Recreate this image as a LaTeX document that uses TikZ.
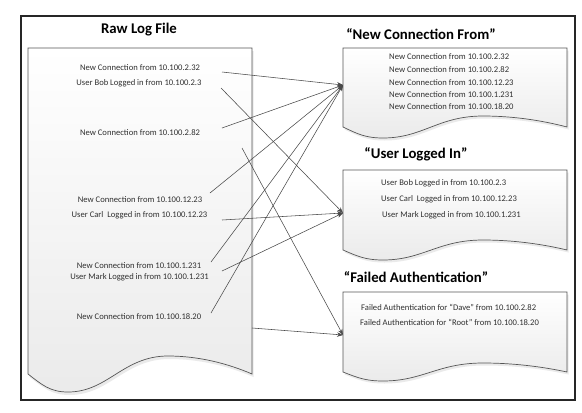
\documentclass[tikz,border=0pt]{standalone}
\usepackage{fontspec}
\setmainfont{Carlito}
\usetikzlibrary{arrows.meta}
\definecolor{txtc}{HTML}{303030}
\definecolor{linec}{HTML}{4A4A4A}
\definecolor{boxc}{HTML}{555555}
\newcommand\docshape[4]{(#1,#2) -- (#1+224,#2) -- (#1+224,#3) .. controls +(-25,-0.6*#4) and +(30,0) .. (#1+140,#3-#4) .. controls +(-45,0) and +(40,0) .. (#1+40,#3+#4) .. controls +(-18,0) and +(14,0.6*#4) .. (#1,#3) -- cycle}
\tikzset{
  doc/.style={top color=white, bottom color=gray!16, draw=boxc, line width=0.7pt},
  docshadow/.style={fill=gray!35, opacity=0.45},
  title/.style={font=\bfseries\fontsize{14.8}{16}\selectfont, text=black, inner sep=0pt},
  txt/.style={font=\fontsize{8.6}{10}\selectfont, text=txtc, inner sep=0pt},
  conn/.style={draw=linec, line width=0.55pt, -{Stealth[length=6pt,width=4.5pt]}},
}
\begin{document}
\begin{tikzpicture}[x=1pt,y=-1pt]
\useasboundingbox (0,0) rectangle (582,413);
\fill[white] (0,0) rectangle (582,413);
\draw[line width=1.1pt, black!85] (21,16) rectangle (575,400);

% documents
\fill[docshadow, xshift=1.5pt, yshift=-3pt] \docshape{28}{48}{374}{18};
\shade[doc] \docshape{28}{48}{374}{18};
\fill[docshadow, xshift=1.5pt, yshift=-2.5pt] \docshape{343}{48}{127}{11};
\shade[doc] \docshape{343}{48}{127}{11};
\fill[docshadow, xshift=1.5pt, yshift=-2.5pt] \docshape{343}{170}{250}{10};
\shade[doc] \docshape{343}{170}{250}{10};
\fill[docshadow, xshift=1.5pt, yshift=-2.5pt] \docshape{343}{292}{372}{9};
\shade[doc] \docshape{343}{292}{372}{9};

% titles
\node[title] (tRaw) at (139,30) {Raw Log File};
\node[title] (tNew) at (421,34) {“New Connection From”};
\node[title] (tUser) at (416,154) {“User Logged In”};
\node[title] (tFail) at (416,277) {“Failed Authentication”};

% raw log lines
\node[txt] (r1) at (140,68) {New Connection from 10.100.2.32};
\node[txt] (r2) at (139,83) {User Bob Logged in from 10.100.2.3};
\node[txt] (r3) at (140,133) {New Connection from 10.100.2.82};
\node[txt] (r4) at (140,200) {New Connection from 10.100.12.23};
\node[txt] (r5) at (139.5,215) {User Carl\ \ Logged in from 10.100.12.23};
\node[txt] (r6) at (139,266) {New Connection from 10.100.1.231};
\node[txt] (r7) at (139.5,277) {User Mark Logged in from 10.100.1.231};
\node[txt] (r8) at (139,317) {New Connection from 10.100.18.20};

% new connection doc
\node[txt, anchor=west] (n1) at (389,57) {New Connection from 10.100.2.32};
\node[txt, anchor=west] (n2) at (389,70) {New Connection from 10.100.2.82};
\node[txt, anchor=west] (n3) at (389,83) {New Connection from 10.100.12.23};
\node[txt, anchor=west] (n4) at (389,95) {New Connection from 10.100.1.231};
\node[txt, anchor=west] (n5) at (389,107) {New Connection from 10.100.18.20};

% user logged in doc
\node[txt, anchor=west] (u1) at (381,183) {User Bob Logged in from 10.100.2.3};
\node[txt, anchor=west] (u2) at (381,199) {User Carl\ \ Logged in from 10.100.12.23};
\node[txt, anchor=west] (u3) at (382,215) {User Mark Logged in from 10.100.1.231};

% failed auth doc
\node[txt, anchor=west] (f1) at (361,307) {Failed Authentication for “Dave” from 10.100.2.82};
\node[txt, anchor=west] (f2) at (360,322) {Failed Authentication for “Root” from 10.100.18.20};

% connector ends
\coordinate (s1) at (222,72);
\coordinate (s2) at (221,88);
\coordinate (s3) at (222,128);
\coordinate (s4) at (242,148);
\coordinate (s5) at (210,193);
\coordinate (s6) at (222,220);
\coordinate (s7) at (211,262);
\coordinate (s8) at (222,271);
\coordinate (s9) at (211,313);
\coordinate (s10) at (252,328);
\coordinate (t1) at (343,85);
\coordinate (t2) at (343,213);
\coordinate (t3) at (343,335);

\draw[conn] (s1) -- (t1);
\draw[conn] (s2) -- (t2);
\draw[conn] (s3) -- (t1);
\draw[conn] (s4) -- (t3);
\draw[conn] (s5) -- (t1);
\draw[conn] (s6) -- (t2);
\draw[conn] (s7) -- (t1);
\draw[conn] (s8) -- (t2);
\draw[conn] (s9) -- (t1);
\draw[conn] (s10) -- (t3);
\end{tikzpicture}
\end{document}
